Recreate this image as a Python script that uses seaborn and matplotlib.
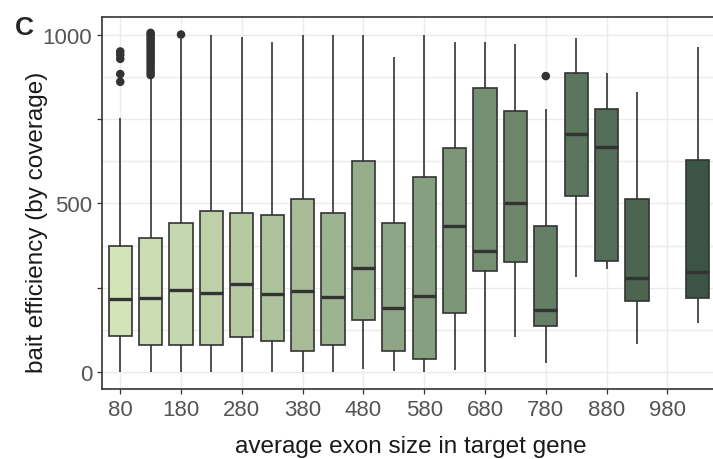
import matplotlib
matplotlib.use("Agg")
import matplotlib.pyplot as plt
from matplotlib.colors import LinearSegmentedColormap, to_hex
import pandas as pd
import seaborn as sns

# ---- data ----
exon_size = [80, 130, 180, 230, 280, 330, 380, 430, 480, 530,
             580, 630, 680, 730, 780, 830, 880, 930, 1030]
whisker_low = [0, 0, 0, 0, 0, 0, 0, 0, 10, 3,
               0, 5, 0, 104, 28, 283, 306, 84, 146]
q1 = [108, 79, 79, 79, 104, 91, 62, 79, 155, 62,
      39, 176, 301, 325, 136, 523, 329, 210, 220]
median = [217, 220, 244, 234, 262, 232, 240, 224, 308, 190,
          225, 434, 358, 501, 183, 704, 668, 278, 296]
q3 = [375, 398, 443, 477, 471, 466, 512, 472, 626, 443,
      579, 665, 842, 773, 433, 886, 779, 512, 627]
whisker_high = [753, 874, 988, 1000, 994, 977, 1000, 1000, 1000, 933,
                1000, 977, 977, 972, 780, 990, 886, 829, 962]

outliers_80 = [950, 940, 928, 883, 860]
outliers_130 = [880, 888, 896, 905, 914, 922, 930, 938, 946, 954,
                962, 970, 978, 985, 992, 1000, 1005]
outliers_180 = [1000]
outliers_780 = [877]

x_tick_values = [80, 180, 280, 380, 480, 580, 680, 780, 880, 980]
x_tick_labels = ["80", "180", "280", "380", "480", "580", "680", "780", "880", "980"]
y_tick_values = [0, 250, 500, 750, 1000]
y_tick_labels = ["0", "", "500", "", "1000"]

# ---- build tables ----
rows = []
for i, s in enumerate(exon_size):
    for v in (whisker_low[i], q1[i], median[i], q3[i], whisker_high[i]):
        rows.append({"size": s, "group": str(s), "eff": v})
df = pd.DataFrame(rows)

out_rows = []
for s, vals in ((80, outliers_80), (130, outliers_130), (180, outliers_180), (780, outliers_780)):
    for v in vals:
        out_rows.append({"size": s, "eff": v})
df_out = pd.DataFrame(out_rows)

# colour gradient by exon size (low -> high)
cmap = LinearSegmentedColormap.from_list("grn", ["#d4e4b9", "#8aa382", "#3b5545"])
lo, hi = min(exon_size), max(exon_size)
palette = {str(s): to_hex(cmap((s - lo) / (hi - lo))) for s in exon_size}

# ---- figure ----
sns.set_style("white")
plt.rcParams["font.family"] = ["Liberation Sans", "DejaVu Sans"]

fig = plt.figure(figsize=(7.13, 4.60), dpi=100)
ax = fig.add_axes([102 / 713, 1 - 390 / 460, (716 - 102) / 713, (390 - 18) / 460])

edge = "#333333"
sns.boxplot(data=df, x="size", y="eff", hue="group", palette=palette,
            native_scale=True, whis=(0, 100), width=0.76, saturation=1,
            linecolor=edge, linewidth=1.2, showcaps=False, fliersize=0,
            medianprops=dict(linewidth=2.4, color=edge),
            legend=False, ax=ax, zorder=2)
sns.scatterplot(data=df_out, x="size", y="eff", color=edge, s=38,
                edgecolor="none", ax=ax, zorder=3, legend=False)

ax.set_xlim(50, 1060)
ax.set_ylim(-50, 1052)

ax.set_xticks(x_tick_values)
ax.set_xticklabels(x_tick_labels)
ax.set_yticks(y_tick_values)
ax.set_yticklabels(y_tick_labels)
ax.set_yticks([125, 375, 625, 875], minor=True)

ax.grid(True, which="major", color="#ebebeb", linewidth=1.0, zorder=0)
ax.grid(True, which="minor", axis="y", color="#ebebeb", linewidth=1.0, zorder=0)
ax.set_axisbelow(True)

ax.tick_params(which="major", length=3.5, width=0.9, color=edge,
               labelsize=16, labelcolor="#555555", pad=3.5, direction="out",
               bottom=True, left=True)
ax.tick_params(which="minor", length=0)

for side in ("top", "bottom", "left", "right"):
    ax.spines[side].set_visible(True)
    ax.spines[side].set_color(edge)
    ax.spines[side].set_linewidth(1.2)

ax.set_xlabel("average exon size in target gene", fontsize=17.5, color="#1a1a1a")
ax.xaxis.set_label_coords((411 - 102) / 614, -(458 - 390) / 372)
ax.xaxis.label.set_va("bottom")
ax.set_ylabel("bait efficiency (by coverage)", fontsize=17.5, color="#1a1a1a")
ax.yaxis.set_label_coords((48 - 102) / 614, (390 - 222) / 372)

fig.text(15 / 713, 1 - 35 / 460, "C", fontsize=19, fontweight="bold", va="baseline", ha="left")

fig.savefig("out.png", dpi=100)
